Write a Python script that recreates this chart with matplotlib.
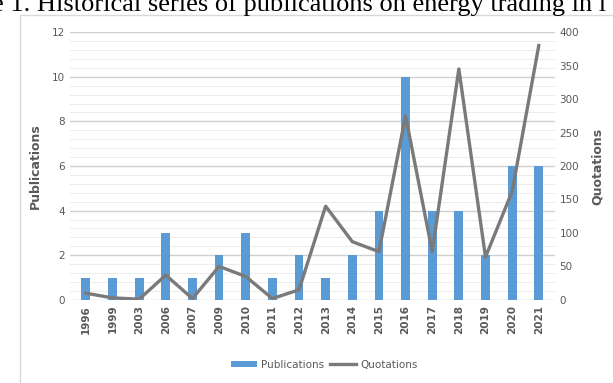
import numpy as np
import matplotlib.pyplot as plt
from matplotlib.patches import Rectangle

years = ['1996', '1999', '2003', '2006', '2007', '2009', '2010', '2011', '2012',
         '2013', '2014', '2015', '2016', '2017', '2018', '2019', '2020', '2021']
publications = [1, 1, 1, 3, 1, 2, 3, 1, 2, 1, 2, 4, 10, 4, 4, 2, 6, 6]
quotations = [10, 3, 1, 37, 2, 50, 35, 2, 15, 140, 87, 72, 275, 72, 345, 64, 162, 380]

blue = '#5b9bd5'
grey = '#7a7a7a'
txt = '#595959'

fig = plt.figure(figsize=(6.13, 3.83), dpi=100)
# outer frame of the chart box
fig.patches.append(Rectangle((0.033, -0.01), 0.99, 0.97, transform=fig.transFigure,
                             fill=False, edgecolor='#d9d9d9', lw=1))
# caption, partly cut off at the top of the picture as in the source
fig.text(-0.013, 0.972, 'e 1. Historical series of publications on energy trading in l',
         fontsize=19, family='Liberation Serif', va='baseline', ha='left')

ax = fig.add_axes([0.114, 0.217, 0.791, 0.699])
x = np.arange(len(years))
ax.bar(x, publications, width=0.33, color=blue, zorder=2, label='Publications')
ax.set_ylim(0, 12)
ax.set_xlim(-0.6, len(years) - 0.4)
ax.set_yticks(np.arange(0, 13, 2))
for v in np.arange(0, 12.01, 0.4):
    major = abs(v / 2 - round(v / 2)) < 1e-6
    ax.axhline(v, color='#d0d0d0' if major else '#ececec', lw=1 if major else 0.7, zorder=0)
ax.set_xticks(x)
ax.set_xticklabels(years, rotation=90, fontsize=7.5, color=txt, fontweight='bold')
ax.tick_params(length=0, labelsize=7.5, labelcolor=txt)
for s in ax.spines.values():
    s.set_visible(False)
ax.set_ylabel('Publications', fontsize=9, fontweight='bold', color=txt, labelpad=7)

ax2 = ax.twinx()
ax2.plot(x, quotations, color=grey, lw=2.4, zorder=3, label='Quotations')
ax2.set_ylim(0, 400)
ax2.set_yticks(np.arange(0, 401, 50))
ax2.tick_params(length=0, labelsize=7.5, labelcolor=txt)
for s in ax2.spines.values():
    s.set_visible(False)
ax2.set_ylabel('Quotations', fontsize=9, fontweight='bold', color=txt, labelpad=8)

h1, l1 = ax.get_legend_handles_labels()
h2, l2 = ax2.get_legend_handles_labels()
fig.legend(h1 + h2, l1 + l2, loc='center', bbox_to_anchor=(0.529, 0.048), ncol=2,
           frameon=False, fontsize=7.5, labelcolor=txt, handlelength=2.5,
           handleheight=0.6, columnspacing=0.6, handletextpad=0.4)

fig.savefig('out.png', dpi=100)
